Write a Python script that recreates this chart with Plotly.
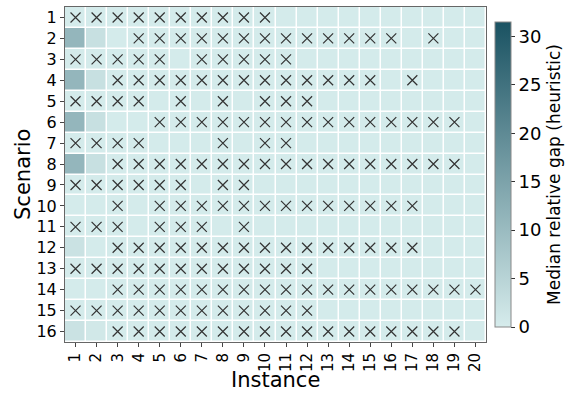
import plotly.graph_objects as go

instances = list(range(1, 21))
scenarios = list(range(1, 17))

# cells marked with an x (instance numbers per scenario)
marked = {
    1: list(range(1, 11)),
    2: list(range(4, 17)) + [18],
    3: list(range(1, 6)) + list(range(7, 12)),
    4: list(range(3, 16)) + [17],
    5: [1, 2, 3, 4, 6, 8, 10, 11, 12],
    6: list(range(5, 20)),
    7: [1, 2, 3, 4, 8, 10, 11],
    8: list(range(3, 20)),
    9: [1, 2, 3, 4, 5, 6, 8, 9],
    10: [3] + list(range(5, 18)),
    11: [1, 2, 3, 5, 6, 7, 9],
    12: list(range(3, 18)),
    13: list(range(1, 13)),
    14: list(range(3, 21)),
    15: list(range(1, 13)),
    16: list(range(3, 20)),
}

# median relative gap values (estimated from colour)
base_gap = 0.3
special_gaps = {
    (2, 1): 11.0, (2, 2): 2.5,
    (4, 1): 11.0, (4, 2): 2.5,
    (6, 1): 11.0, (6, 2): 2.5,
    (8, 1): 11.0, (8, 2): 2.5,
    (12, 1): 2.0,
    (16, 1): 2.0, (16, 2): 0.8,
}

z = []
for s in scenarios:
    row = []
    for i in instances:
        row.append(special_gaps.get((s, i), base_gap))
    z.append(row)

mx, my = [], []
for s in scenarios:
    for i in marked[s]:
        mx.append(i)
        my.append(s)

font = "DejaVu Sans"

fig = go.Figure()
fig.add_trace(go.Heatmap(
    x=instances, y=scenarios, z=z,
    zmin=0, zmax=31.5,
    colorscale=[[0, "#d6ecec"], [1, "#1a5262"]],
    xgap=1.5, ygap=1.5,
    showscale=True,
    colorbar=dict(
        title=dict(text="Median relative gap (heuristic)", side="right",
                   font=dict(size=17, color="black", family=font)),
        tickvals=[0, 5, 10, 15, 20, 25, 30],
        tickfont=dict(size=18, color="black", family=font),
        ticks="outside", ticklen=4, tickcolor="#333",
        thickness=16, len=0.91, y=0.5, yanchor="middle",
        x=1.021, xanchor="left", xpad=0, ypad=0,
        outlinecolor="#888", outlinewidth=1,
    ),
    hoverinfo="skip",
))
fig.add_trace(go.Scatter(
    x=mx, y=my, mode="markers",
    marker=dict(symbol="x-thin", size=10, line=dict(width=1.2, color="#333")),
    showlegend=False, hoverinfo="skip",
))

fig.update_xaxes(
    tickvals=instances, ticktext=[str(i) for i in instances],
    tickangle=-90, tickfont=dict(size=15, color="black", family=font),
    ticks="outside", ticklen=4, tickcolor="#444",
    range=[0.5, 20.5], showgrid=False, zeroline=False,
    showline=True, linecolor="#666", linewidth=1, mirror=True,
)
fig.update_yaxes(
    tickvals=scenarios, ticktext=[str(s) for s in scenarios],
    tickfont=dict(size=16, color="black", family=font),
    ticks="outside", ticklen=4, tickcolor="#444",
    range=[16.5, 0.5], showgrid=False, zeroline=False,
    showline=True, linecolor="#666", linewidth=1, mirror=True,
)
fig.add_annotation(text="Instance", xref="paper", yref="paper",
                   x=0.5, y=-0.1134, xanchor="center", yanchor="middle",
                   showarrow=False, font=dict(size=21, color="black", family=font))
fig.add_annotation(text="Scenario", xref="paper", yref="paper",
                   x=-0.101, y=0.5, xanchor="center", yanchor="middle",
                   textangle=-90, showarrow=False,
                   font=dict(size=21, color="black", family=font))
fig.update_layout(
    width=571, height=396,
    margin=dict(l=65, r=82, t=7, b=54),
    plot_bgcolor="white", paper_bgcolor="white",
    font=dict(family=font),
)
fig.write_html("out.html")
